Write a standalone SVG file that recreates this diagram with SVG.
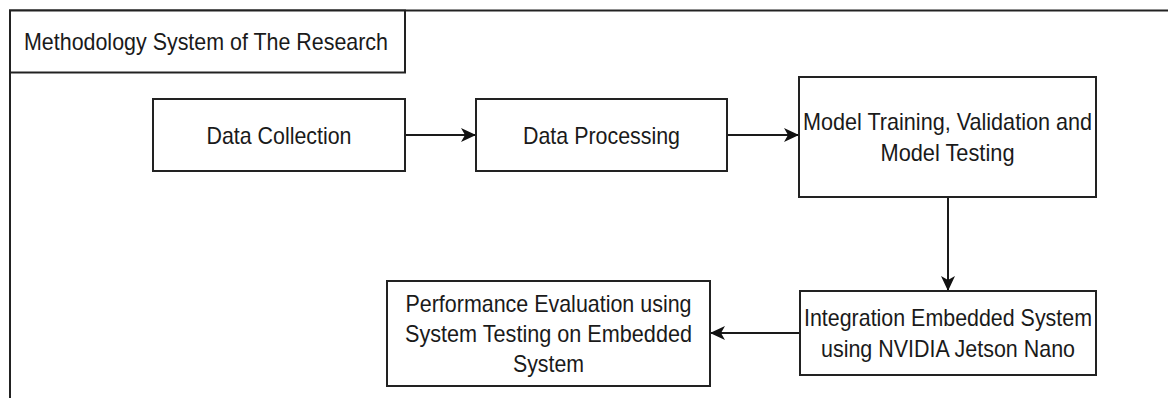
<svg xmlns="http://www.w3.org/2000/svg" width="1168" height="398" viewBox="0 0 1168 398">
<style>
.box{fill:#ffffff;stroke:#222222;stroke-width:2}
.frame{fill:none;stroke:#222222;stroke-width:2}
.lbl{font-family:"Liberation Sans",Arial,sans-serif;font-size:24px;fill:#1a1a1a;text-anchor:middle}
.edge{fill:none;stroke:#1a1a1a;stroke-width:2}
</style>
<defs>
<marker id="arr" markerUnits="userSpaceOnUse" markerWidth="16" markerHeight="14" refX="14" refY="7" orient="auto">
<path d="M0,0 L15,7 L0,14 L4,7 Z" fill="#111111"/>
</marker>
</defs>
<rect width="1168" height="398" fill="#ffffff"/>
<g id="frame">
<path class="frame" d="M10,398 L10,10.5 L1168,10.5"/>
</g>
<g id="title">
<rect class="box" x="10" y="10.5" width="395" height="62"/>
<text class="lbl" x="206" y="49.5" textLength="364" lengthAdjust="spacingAndGlyphs">Methodology System of The Research</text>
</g>
<g id="connectors">
<line class="edge" x1="405" y1="135" x2="475" y2="135" marker-end="url(#arr)"/>
<line class="edge" x1="727" y1="135" x2="798" y2="135" marker-end="url(#arr)"/>
<line class="edge" x1="948" y1="197" x2="948" y2="290" marker-end="url(#arr)"/>
<line class="edge" x1="800" y1="333" x2="711" y2="333" marker-end="url(#arr)"/>
</g>
<g id="data-collection">
<rect class="box" x="153" y="99" width="252" height="72"/>
<text class="lbl" x="279" y="143.5" textLength="145" lengthAdjust="spacingAndGlyphs">Data Collection</text>
</g>
<g id="data-processing">
<rect class="box" x="476" y="99" width="251" height="72"/>
<text class="lbl" x="601.5" y="143.5" textLength="157" lengthAdjust="spacingAndGlyphs">Data Processing</text>
</g>
<g id="model-training">
<rect class="box" x="799" y="77" width="297" height="120"/>
<text class="lbl" x="947.5" y="130" textLength="289" lengthAdjust="spacingAndGlyphs">Model Training, Validation and</text>
<text class="lbl" x="947.5" y="161" textLength="134" lengthAdjust="spacingAndGlyphs">Model Testing</text>
</g>
<g id="integration">
<rect class="box" x="800" y="291" width="296" height="84"/>
<text class="lbl" x="948" y="326" textLength="288" lengthAdjust="spacingAndGlyphs">Integration Embedded System</text>
<text class="lbl" x="948" y="357" textLength="254" lengthAdjust="spacingAndGlyphs">using NVIDIA Jetson Nano</text>
</g>
<g id="performance">
<rect class="box" x="387" y="281" width="323" height="105"/>
<text class="lbl" x="548.5" y="312" textLength="286" lengthAdjust="spacingAndGlyphs">Performance Evaluation using</text>
<text class="lbl" x="548.5" y="342" textLength="287" lengthAdjust="spacingAndGlyphs">System Testing on Embedded</text>
<text class="lbl" x="548.5" y="372" textLength="71" lengthAdjust="spacingAndGlyphs">System</text>
</g>
</svg>
